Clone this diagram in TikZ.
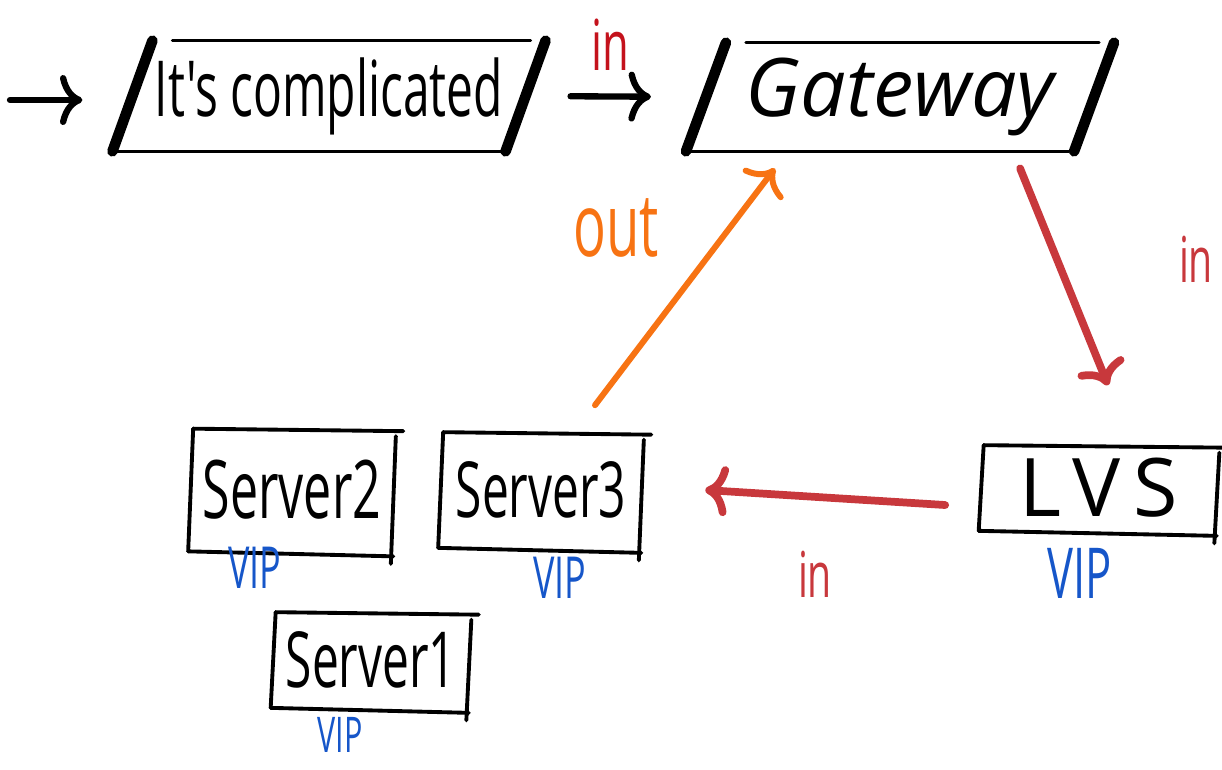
\documentclass[tikz,border=0pt]{standalone}
\usepackage{fontspec}
\setmainfont{Open Sans}
\newfontfamily\handfont{Open Sans}[FakeStretch=0.62]
\newfontfamily\gatefont{Open Sans}
\newfontfamily\widefont{Open Sans}[LetterSpace=16]
\usetikzlibrary{arrows.meta,positioning}

\definecolor{inred}{HTML}{C8383C}
\definecolor{brightred}{HTML}{C4121C}
\definecolor{outorange}{HTML}{F77313}
\definecolor{vipblue}{HTML}{1656C9}

\tikzset{
  sidethin/.style={line width=1.8pt, line cap=round},
  sidethick/.style={line width=6pt, line cap=round},
  sideserver/.style={line width=2.2pt, line cap=round},
  % top boxes: thin top and bottom, thick slanted sides
  framebox/.style={inner sep=0pt, append after command={
      ([xshift=0.8cm]\tikzlastnode.north west) edge[sidethin] ([xshift=0.1cm]\tikzlastnode.north east)
      ([xshift=-0.3cm]\tikzlastnode.south west) edge[sidethin] ([xshift=-0.5cm]\tikzlastnode.south east)
      ([xshift=0.4cm]\tikzlastnode.north west) edge[sidethick] ([xshift=-0.4cm]\tikzlastnode.south west)
      ([xshift=0.4cm]\tikzlastnode.north east) edge[sidethick] ([xshift=-0.4cm]\tikzlastnode.south east)
  }},
  % server boxes: even lines
  serverbox/.style={inner sep=0pt, append after command={
      ([xshift=0.05cm]\tikzlastnode.north west) edge[sideserver] ([xshift=0.2cm,yshift=-0.05cm]\tikzlastnode.north east)
      ([xshift=-0.05cm]\tikzlastnode.south west) edge[sideserver] ([yshift=-0.1cm]\tikzlastnode.south east)
      ([xshift=0.05cm]\tikzlastnode.north west) edge[sideserver] ([xshift=-0.05cm]\tikzlastnode.south west)
      ([xshift=0.05cm,yshift=-0.15cm]\tikzlastnode.north east) edge[sideserver] ([xshift=-0.05cm,yshift=-0.25cm]\tikzlastnode.south east)
  }},
  arr/.style={line width=3.6pt, line cap=round, -{To[length=4.5mm,width=10mm]}},
  inlabel/.style={anchor=base, inner sep=0pt, text=inred, font=\handfont\fontsize{36}{42}\selectfont},
  viplabel/.style={anchor=base, inner sep=0pt, text=vipblue, font=\handfont\fontsize{33}{38}\selectfont},
}

\begin{document}
\begin{tikzpicture}[x=0.02cm, y=-0.02cm]
  \useasboundingbox (0,0) rectangle (1222,769);

  % boxes
  \node[framebox, minimum width=7.85cm, minimum height=2.2cm, font=\handfont\fontsize{44}{50}\selectfont] (cx) at (329,96) {It's complicated};
  \node[framebox, minimum width=7.75cm, minimum height=2.16cm, font=\gatefont\itshape\fontsize{46}{52}\selectfont] (gw) at (900,97) {Gateway};
  \node[serverbox, minimum width=4.7cm, minimum height=1.7cm, font=\widefont\fontsize{46}{52}\selectfont] (lvs) at (1099,488) {LVS};
  \node[serverbox, minimum width=4.0cm, minimum height=2.3cm, font=\handfont\fontsize{44}{50}\selectfont] (srvC) at (541,490) {Server3};
  \node[serverbox, minimum width=4.04cm, minimum height=2.44cm, font=\handfont\fontsize{46}{52}\selectfont] (srvB) at (292,490) {Server2};
  \node[serverbox, minimum width=3.9cm, minimum height=1.9cm, font=\handfont\fontsize{44}{50}\selectfont] (srvA) at (371,660) {Server1};

  % VIP labels
  \node[viplabel, font=\handfont\fontsize{40}{46}\selectfont] (vipL) at (1080,598) {VIP};
  \node[viplabel] (vipC) at (560,598) {VIP};
  \node[viplabel] (vipB) at (255,588) {VIP};
  \node[viplabel, font=\handfont\fontsize{28}{32}\selectfont] (vipA) at (340,752) {VIP};

  % arrows
  \coordinate (entry) at (10,100);
  \draw[arr, shorten >=1cm] (entry) -- (entry -| cx.west);
  \draw[arr, shorten <=0.9cm, shorten >=1.1cm] (cx.east) -- (gw.west);
  \draw[arr, inred, line width=4.4pt] ([shift={(-74,17)}]gw.south east) -- ([shift={(9,-60)}]lvs.north);
  \draw[arr, inred, line width=4.4pt] ([shift={(-36,17)}]lvs.west) -- ([shift={(64,0)}]srvC.east);
  \draw[arr, outorange, line width=3.4pt] ([shift={(54,-27)}]srvC.north) -- ([shift={(69,17)}]gw.south west);

  % labels
  \node[inlabel, text=brightred, font=\handfont\fontsize{40}{46}\selectfont] (inA) at (610,70) {in};
  \node[inlabel] (inB) at (1196,282) {in};
  \node[inlabel] (inC) at (815,597) {in};
  \node[anchor=base, inner sep=0pt, text=outorange, font=\handfont\fontsize{50}{56}\selectfont] (outL) at (616,256) {out};
\end{tikzpicture}
\end{document}
